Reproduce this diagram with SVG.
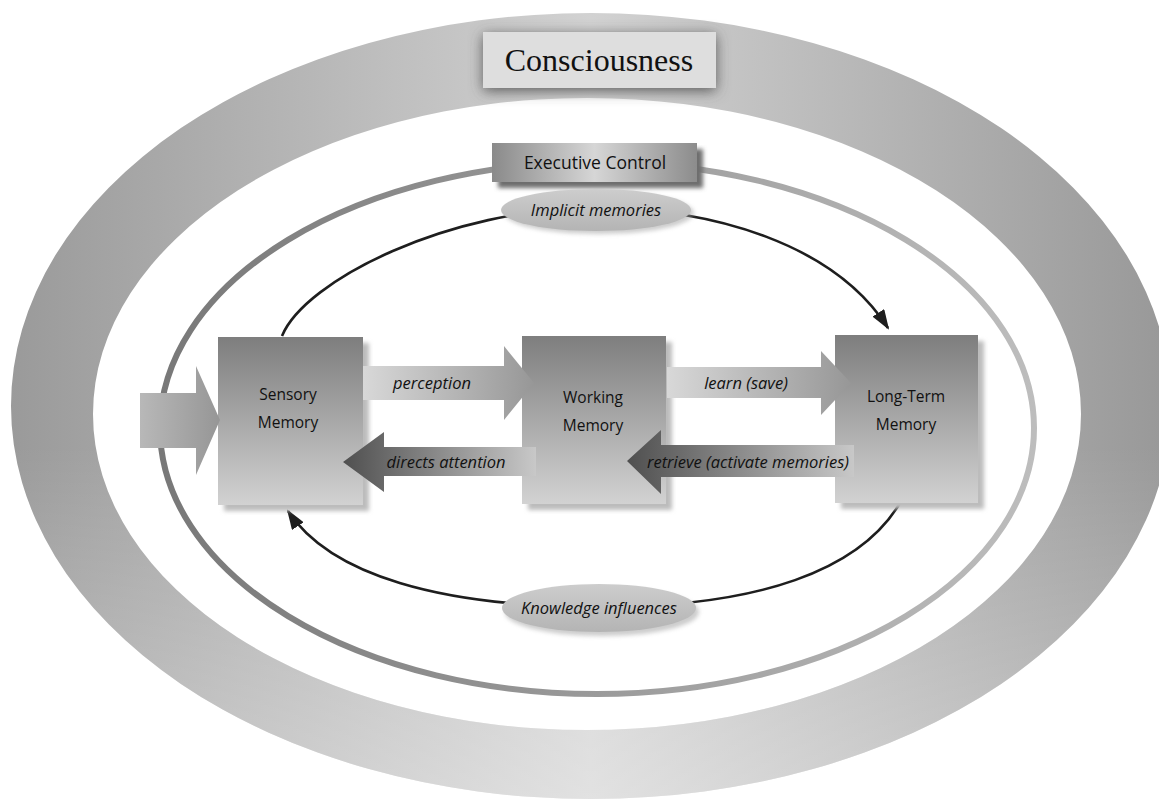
<svg xmlns="http://www.w3.org/2000/svg" width="1159" height="805" viewBox="0 0 1159 805">
  <style>
    .box-label { font-family: "Open Sans", "Noto Sans", sans-serif; font-size: 15.5px; fill: #111; text-anchor: middle; }
    .arrow-label { font-family: "Open Sans", "Noto Sans", sans-serif; font-size: 16.5px; font-style: italic; fill: #111; text-anchor: middle; }
    .title { font-family: "Liberation Serif", "Times New Roman", serif; font-size: 32px; fill: #111; text-anchor: middle; }
    .flow { fill: none; stroke: #1e1e1e; stroke-width: 2.6; }
  </style>
  <defs>
    <linearGradient id="ringFill" x1="0" y1="0" x2="1" y2="0">
      <stop offset="0" stop-color="#9a9a9a"/>
      <stop offset="0.5" stop-color="#d2d2d2"/>
      <stop offset="1" stop-color="#989898"/>
    </linearGradient>
    <linearGradient id="ringHaze" x1="0" y1="0" x2="0" y2="1">
      <stop offset="0.55" stop-color="#ffffff" stop-opacity="0"/>
      <stop offset="1" stop-color="#ffffff" stop-opacity="0.35"/>
    </linearGradient>
    <linearGradient id="controlStroke" x1="0" y1="0" x2="1" y2="0">
      <stop offset="0" stop-color="#787878"/>
      <stop offset="0.5" stop-color="#9a9a9a"/>
      <stop offset="1" stop-color="#bdbdbd"/>
    </linearGradient>
    <linearGradient id="memBox" x1="0" y1="0" x2="0" y2="1">
      <stop offset="0" stop-color="#7e7e7e"/>
      <stop offset="1" stop-color="#d2d2d2"/>
    </linearGradient>
    <linearGradient id="execBox" x1="0" y1="0" x2="1" y2="0">
      <stop offset="0" stop-color="#8a8a8a"/>
      <stop offset="0.5" stop-color="#d6d6d6"/>
      <stop offset="1" stop-color="#8c8c8c"/>
    </linearGradient>
    <linearGradient id="fwdArrow" x1="0" y1="0" x2="1" y2="0">
      <stop offset="0" stop-color="#d8d8d8"/>
      <stop offset="1" stop-color="#979797"/>
    </linearGradient>
    <linearGradient id="inArrow" x1="0" y1="0" x2="1" y2="0">
      <stop offset="0" stop-color="#b8b8b8"/>
      <stop offset="1" stop-color="#969696"/>
    </linearGradient>
    <linearGradient id="backArrow" x1="0" y1="0" x2="1" y2="0">
      <stop offset="0" stop-color="#4f4f4f"/>
      <stop offset="1" stop-color="#c8c8c8"/>
    </linearGradient>
    <linearGradient id="tag" x1="0" y1="0" x2="0" y2="1">
      <stop offset="0" stop-color="#cdcdcd"/>
      <stop offset="1" stop-color="#b4b4b4"/>
    </linearGradient>
    <filter id="haloShadow" x="-20%" y="-40%" width="140%" height="190%">
      <feDropShadow dx="0" dy="3" stdDeviation="7" flood-color="#4a4a4a" flood-opacity="0.85"/>
    </filter>
    <filter id="softShadow" x="-10%" y="-10%" width="130%" height="130%">
      <feGaussianBlur stdDeviation="2"/>
    </filter>
    <marker id="head" viewBox="0 0 20 14" refX="18" refY="7" markerWidth="20" markerHeight="14" markerUnits="userSpaceOnUse" orient="auto">
      <path d="M0,0 L20,7 L0,14 Z" fill="#1e1e1e"/>
    </marker>
  </defs>

  <rect width="1159" height="805" fill="#ffffff"/>

  <!-- consciousness ring -->
  <g id="consciousness-ring">
    <path fill-rule="evenodd" fill="url(#ringFill)" d="M11,406 a580,393 0 1,0 1160,0 a580,393 0 1,0 -1160,0 Z M93,414 a494,316 0 1,0 988,0 a494,316 0 1,0 -988,0 Z"/>
    <path fill-rule="evenodd" fill="url(#ringHaze)" d="M11,406 a580,393 0 1,0 1160,0 a580,393 0 1,0 -1160,0 Z M93,414 a494,316 0 1,0 988,0 a494,316 0 1,0 -988,0 Z"/>
  </g>

  <g id="consciousness">
    <rect x="483" y="32" width="233" height="56" fill="#dedede" filter="url(#haloShadow)"/>
    <text class="title" x="599" y="71">Consciousness</text>
  </g>

  <!-- executive control loop -->
  <g id="executive-ring">
    <ellipse cx="597" cy="428" rx="437" ry="266" fill="none" stroke="url(#controlStroke)" stroke-width="6"/>
  </g>

  <g id="executive-control">
    <rect x="498" y="149" width="205" height="39" fill="#6e6e6e" filter="url(#softShadow)"/>
    <rect x="492" y="143" width="205" height="39" fill="url(#execBox)"/>
    <text class="box-label" x="595" y="169" style="font-size:17.5px">Executive Control</text>
  </g>

  <!-- curved flows between memory stores -->
  <g id="connectors">
    <path class="flow" d="M282,336 C305,280 450,208 595,208 C715,208 835,245 888,328" marker-end="url(#head)"/>
    <path class="flow" d="M900,503 C860,570 760,607 600,607 C440,607 330,575 288,511" marker-end="url(#head)"/>
  </g>

  <g id="implicit-memories">
    <ellipse cx="599" cy="213" rx="95" ry="21" fill="#9a9a9a" opacity="0.5" filter="url(#softShadow)"/>
    <ellipse cx="596" cy="210" rx="95" ry="21" fill="url(#tag)"/>
    <text class="arrow-label" x="596" y="216">Implicit memories</text>
  </g>

  <g id="knowledge-influences">
    <ellipse cx="602" cy="612" rx="97" ry="24" fill="#9a9a9a" opacity="0.5" filter="url(#softShadow)"/>
    <ellipse cx="599" cy="608" rx="97" ry="24" fill="url(#tag)"/>
    <text class="arrow-label" x="599" y="614">Knowledge influences</text>
  </g>

  <!-- memory stores -->
  <g id="sensory-memory">
    <rect x="224" y="343" width="145" height="168" fill="#bcbcbc" filter="url(#softShadow)"/>
    <rect x="218" y="337" width="145" height="168" fill="url(#memBox)"/>
    <text class="box-label" x="288" y="400">Sensory</text>
    <text class="box-label" x="288" y="428">Memory</text>
  </g>

  <g id="working-memory">
    <rect x="528" y="342" width="144" height="168" fill="#bcbcbc" filter="url(#softShadow)"/>
    <rect x="522" y="336" width="144" height="168" fill="url(#memBox)"/>
    <text class="box-label" x="593" y="403">Working</text>
    <text class="box-label" x="593" y="431">Memory</text>
  </g>

  <g id="long-term-memory">
    <rect x="841" y="341" width="143" height="168" fill="#bcbcbc" filter="url(#softShadow)"/>
    <rect x="835" y="335" width="143" height="168" fill="url(#memBox)"/>
    <text class="box-label" x="906" y="402">Long-Term</text>
    <text class="box-label" x="906" y="430">Memory</text>
  </g>

  <!-- block arrows -->
  <g id="input-arrow">
    <polygon points="140,393 196,393 196,366 220,420 196,475 196,448 140,448" fill="url(#inArrow)"/>
  </g>

  <g id="perception">
    <polygon points="363,366 504,366 504,346 534,383 504,420 504,400 363,400" fill="url(#fwdArrow)"/>
    <text class="arrow-label" x="432" y="389">perception</text>
  </g>

  <g id="learn">
    <polygon points="667,367 821,367 821,351 851,383 821,415 821,398 667,398" fill="url(#fwdArrow)"/>
    <text class="arrow-label" x="746" y="389">learn (save)</text>
  </g>

  <g id="directs-attention">
    <polygon points="343,462 384,432 384,447 536,447 536,476 384,476 384,492" fill="url(#backArrow)"/>
    <text class="arrow-label" x="446" y="468">directs attention</text>
  </g>

  <g id="retrieve">
    <polygon points="627,461 661,430 661,445 854,445 854,477 661,477 661,494" fill="url(#backArrow)"/>
    <text class="arrow-label" x="748" y="468">retrieve (activate memories)</text>
  </g>
</svg>
